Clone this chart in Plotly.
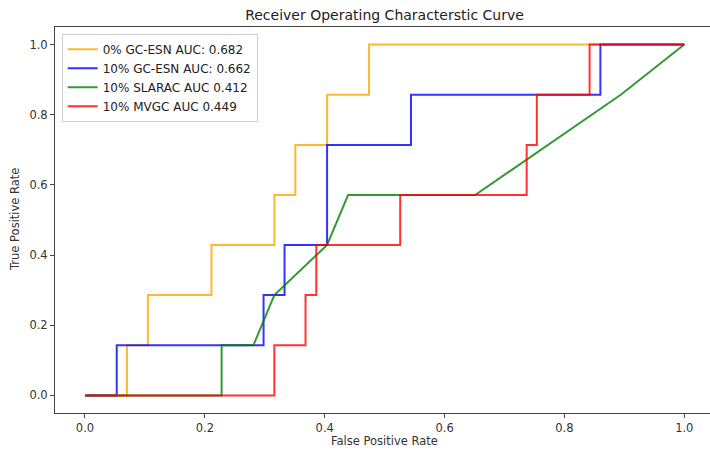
import plotly.graph_objects as go

# ROC data
gc0_fpr = [0.0, 0.070, 0.070, 0.105, 0.105, 0.211, 0.211, 0.316, 0.316, 0.351, 0.351, 0.404, 0.404, 0.474, 0.474, 1.0]
gc0_tpr = [0.0, 0.0, 0.143, 0.143, 0.286, 0.286, 0.429, 0.429, 0.571, 0.571, 0.714, 0.714, 0.857, 0.857, 1.0, 1.0]

gc10_fpr = [0.0, 0.053, 0.053, 0.298, 0.298, 0.333, 0.333, 0.404, 0.404, 0.544, 0.544, 0.860, 0.860, 1.0]
gc10_tpr = [0.0, 0.0, 0.143, 0.143, 0.286, 0.286, 0.429, 0.429, 0.714, 0.714, 0.857, 0.857, 1.0, 1.0]

slarac_fpr = [0.0, 0.228, 0.228, 0.281, 0.316, 0.404, 0.439, 0.651, 0.894, 1.0]
slarac_tpr = [0.0, 0.0, 0.143, 0.143, 0.286, 0.429, 0.571, 0.571, 0.857, 1.0]

mvgc_fpr = [0.0, 0.316, 0.316, 0.368, 0.368, 0.386, 0.386, 0.526, 0.526, 0.737, 0.737, 0.754, 0.754, 0.842, 0.842, 1.0]
mvgc_tpr = [0.0, 0.0, 0.143, 0.143, 0.286, 0.286, 0.429, 0.429, 0.571, 0.571, 0.714, 0.714, 0.857, 0.857, 1.0, 1.0]

labels = ["0% GC-ESN AUC: 0.682", "10% GC-ESN AUC: 0.662", "10% SLARAC AUC 0.412", "10% MVGC AUC 0.449"]
colors = ["rgba(255,165,0,0.8)", "rgba(0,0,255,0.8)", "rgba(0,128,0,0.8)", "rgba(255,0,0,0.8)"]
series = [(gc0_fpr, gc0_tpr), (gc10_fpr, gc10_tpr), (slarac_fpr, slarac_tpr), (mvgc_fpr, mvgc_tpr)]

tick_vals = [0.0, 0.2, 0.4, 0.6, 0.8, 1.0]
tick_text = ["0.0", "0.2", "0.4", "0.6", "0.8", "1.0"]

FONT = "DejaVu Sans"
W, H = 710, 450

fig = go.Figure()
for (fx, ty), lab, col in zip(series, labels, colors):
    fig.add_trace(go.Scatter(x=fx, y=ty, mode="lines", name=lab,
                             line=dict(color=col, width=2)))

fig.update_layout(
    width=W, height=H,
    margin=dict(l=55, r=0, t=27, b=37, autoexpand=False),
    paper_bgcolor="white", plot_bgcolor="white",
    font=dict(family=FONT, size=11.5, color="#333"),
    showlegend=True,
    legend=dict(x=0.0102, y=0.9826, xanchor="left", yanchor="top",
                bgcolor="white", bordercolor="#d0d0d0", borderwidth=1,
                font=dict(family=FONT, size=12, color="#222"),
                tracegroupgap=0),
    title=dict(text="Receiver Operating Characterstic Curve",
               x=384.5 / W, xref="container", xanchor="center",
               y=1 - 15 / H, yref="container", yanchor="middle",
               pad=dict(t=0, b=0, l=0, r=0),
               font=dict(family=FONT, size=14, color="#222")),
    annotations=[
        dict(text="False Positive Rate", xref="paper", yref="paper",
             x=(384.5 - 55) / 655, y=0, xanchor="center", yanchor="middle",
             yshift=-28, showarrow=False, font=dict(family=FONT, size=11.5, color="#333")),
        dict(text="True Positive Rate", xref="paper", yref="paper",
             x=0, y=0.5, xanchor="center", yanchor="middle", textangle=-90,
             xshift=-40, showarrow=False, font=dict(family=FONT, size=11.5, color="#333")),
    ],
)

fig.update_xaxes(range=[-0.05, 1.0429], tickvals=tick_vals, ticktext=tick_text,
                 showgrid=False, zeroline=False, showline=True, linecolor="#444",
                 linewidth=1, mirror=True, ticks="outside", ticklen=4, automargin=False,
                 tickcolor="#444", tickfont=dict(family=FONT, size=11.5, color="#333"))
fig.update_yaxes(range=[-0.05, 1.05], tickvals=tick_vals, ticktext=tick_text,
                 showgrid=False, zeroline=False, showline=True, linecolor="#444",
                 linewidth=1, mirror=False, ticks="outside", ticklen=4, automargin=False,
                 tickcolor="#444", tickfont=dict(family=FONT, size=11.5, color="#333"))

fig.write_html("out.html", config={"displayModeBar": False},
               post_script="document.body.style.margin='0';")
